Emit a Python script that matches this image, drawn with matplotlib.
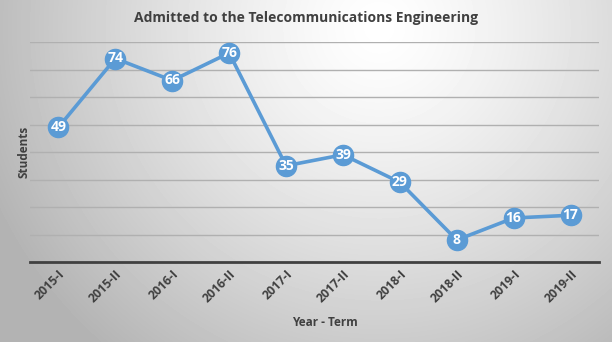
import numpy as np
import matplotlib.pyplot as plt

terms = ['2015-I', '2015-II', '2016-I', '2016-II', '2017-I',
         '2017-II', '2018-I', '2018-II', '2019-I', '2019-II']
students = [49, 74, 66, 76, 35, 39, 29, 8, 16, 17]

plt.rcParams['font.family'] = ['Open Sans', 'DejaVu Sans']

fig = plt.figure(figsize=(6.12, 3.42), dpi=100)

# radial gray background
bg = fig.add_axes([0, 0, 1, 1], zorder=-10)
gx, gy = np.meshgrid(np.linspace(0, 1, 612), np.linspace(0, 1, 342))
r = np.sqrt(((gx - 0.62) * 1.0) ** 2 + ((gy - 0.08) * 0.56) ** 2)
shade = 1.0 - 0.30 * np.clip(r / 0.7, 0, 1) ** 1.3
bg.imshow(shade, cmap='gray', vmin=0, vmax=1, aspect='auto',
          extent=[0, 1, 1, 0], interpolation='bilinear')
bg.axis('off')

ax = fig.add_axes([30 / 612, (342 - 262) / 342, 569 / 612, 220 / 342])
ax.patch.set_alpha(0)
x = np.arange(len(terms))
ax.plot(x, students, color='#5B9BD5', lw=2.6, marker='o', ms=14.5,
        mec='#5B9BD5', mfc='#5B9BD5', zorder=3)
for xi, v in zip(x, students):
    ax.text(xi, v, str(v), ha='center', va='center', color='white',
            fontsize=10, fontweight='bold', zorder=4)

ax.set_xlim(-0.5, len(terms) - 0.5)
ax.set_ylim(0, 80)
ax.set_yticks(np.arange(10, 81, 10))
ax.yaxis.grid(True, color='#b0b0b0', lw=1)
ax.set_axisbelow(True)
ax.tick_params(axis='y', left=False, labelleft=False)
ax.tick_params(axis='x', length=0, pad=4)
ax.set_xticks(x)
ax.set_xticklabels(terms, rotation=45, ha='right', rotation_mode='anchor',
                   fontsize=8.8, fontweight='bold', color='#404040')
for s in ['top', 'right', 'left']:
    ax.spines[s].set_visible(False)
ax.spines['bottom'].set_color('#404040')
ax.spines['bottom'].set_linewidth(2)

ax.set_ylabel('Students', fontsize=8.5, fontweight='bold', color='#404040',
              labelpad=0)
fig.text(325 / 612, 1 - 322 / 342, 'Year - Term', ha='center', va='center',
         fontsize=8.5, fontweight='bold', color='#404040')
fig.text(306 / 612, 1 - 18 / 342, 'Admitted to the Telecommunications Engineering',
         ha='center', va='center', fontsize=10, fontweight='bold',
         color='#404040')

fig.savefig('out.png', dpi=100)
